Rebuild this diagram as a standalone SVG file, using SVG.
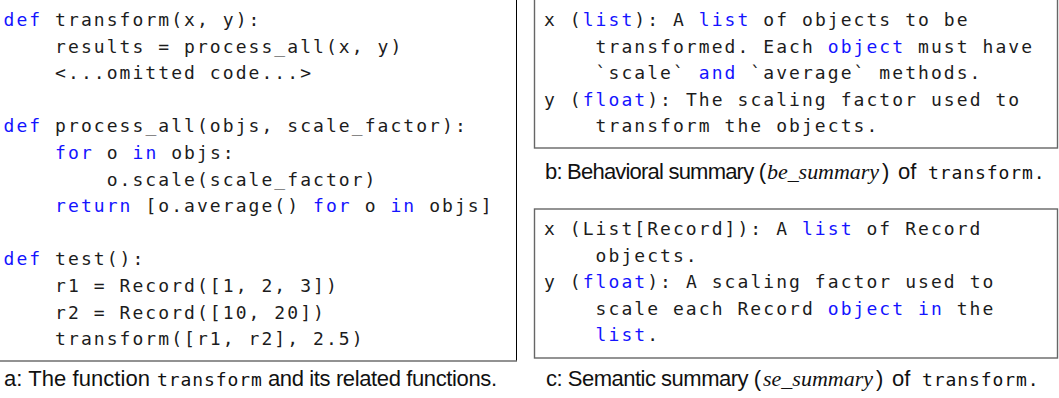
<svg xmlns="http://www.w3.org/2000/svg" width="1059" height="398" viewBox="0 0 1059 398">
<style>
.code{font-family:"DejaVu Sans Mono","Liberation Mono",monospace;font-size:18px;letter-spacing:2.06px;fill:#1c1c1c;white-space:pre}
.kw{fill:#1414ff}
.cap{font-family:"Liberation Sans","Noto Sans",sans-serif;font-size:22px;fill:#111;white-space:pre}
.capi{font-family:"Liberation Serif",serif;font-style:italic;font-size:22px;fill:#111}
.capm{font-family:"DejaVu Sans Mono","Liberation Mono",monospace;font-size:18px;letter-spacing:0.9px;fill:#111;white-space:pre}
.box{fill:none;stroke:#666;stroke-width:1.4}
</style>
<rect width="1059" height="398" fill="#fff"/>

<g id="panel-a">
  <line x1="516.5" y1="0" x2="516.5" y2="361" stroke="#000" stroke-width="1"/>
  <line x1="0" y1="361" x2="517" y2="361" stroke="#6e6e6e" stroke-width="1.6"/>
  <text class="code" xml:space="preserve" x="3.5" y="26"><tspan class="kw">def</tspan> transform(x, y):</text>
  <text class="code" xml:space="preserve" x="3.5" y="52.6">    results = process_all(x, y)</text>
  <text class="code" xml:space="preserve" x="3.5" y="79.2">    &lt;...omitted code...&gt;</text>
  <text class="code" xml:space="preserve" x="3.5" y="132.4"><tspan class="kw">def</tspan> process_all(objs, scale_factor):</text>
  <text class="code" xml:space="preserve" x="3.5" y="159">    <tspan class="kw">for</tspan> o <tspan class="kw">in</tspan> objs:</text>
  <text class="code" xml:space="preserve" x="3.5" y="185.6">        o.scale(scale_factor)</text>
  <text class="code" xml:space="preserve" x="3.5" y="212.2">    <tspan class="kw">return</tspan> [o.average() <tspan class="kw">for</tspan> o <tspan class="kw">in</tspan> objs]</text>
  <text class="code" xml:space="preserve" x="3.5" y="265.4"><tspan class="kw">def</tspan> test():</text>
  <text class="code" xml:space="preserve" x="3.5" y="292">    r1 = Record([1, 2, 3])</text>
  <text class="code" xml:space="preserve" x="3.5" y="318.6">    r2 = Record([10, 20])</text>
  <text class="code" xml:space="preserve" x="3.5" y="345.2">    transform([r1, r2], 2.5)</text>
</g>

<g id="caption-a">
  <text class="cap" x="4" y="386" textLength="146">a: The function</text>
  <text class="capm" x="157" y="386">transform</text>
  <text class="cap" x="268" y="386" textLength="229">and its related functions.</text>
</g>

<g id="panel-b">
  <rect class="box" x="534.5" y="-2" width="523" height="150"/>
  <text class="code" xml:space="preserve" x="544" y="26">x (<tspan class="kw">list</tspan>): A <tspan class="kw">list</tspan> of objects to be</text>
  <text class="code" xml:space="preserve" x="544" y="52.6">    transformed. Each <tspan class="kw">object</tspan> must have</text>
  <text class="code" xml:space="preserve" x="544" y="79.2">    `scale` <tspan class="kw">and</tspan> `average` methods.</text>
  <text class="code" xml:space="preserve" x="544" y="105.8">y (<tspan class="kw">float</tspan>): The scaling factor used to</text>
  <text class="code" xml:space="preserve" x="544" y="132.4">    transform the objects.</text>
</g>

<g id="caption-b">
  <text class="cap" x="545" y="179" textLength="221">b: Behavioral summary (</text>
  <text class="capi" x="767" y="179" textLength="112">be_summary</text>
  <text class="cap" x="882" y="179">)</text>
  <text class="cap" x="898" y="179">of</text>
  <text class="capm" x="928" y="179">transform.</text>
</g>

<g id="panel-c">
  <rect class="box" x="534.5" y="209" width="523" height="149"/>
  <text class="code" xml:space="preserve" x="544" y="235">x (List[Record]): A <tspan class="kw">list</tspan> of Record</text>
  <text class="code" xml:space="preserve" x="544" y="261.6">    objects.</text>
  <text class="code" xml:space="preserve" x="544" y="288.2">y (<tspan class="kw">float</tspan>): A scaling factor used to</text>
  <text class="code" xml:space="preserve" x="544" y="314.8">    scale each Record <tspan class="kw">object</tspan> <tspan class="kw">in</tspan> the</text>
  <text class="code" xml:space="preserve" x="544" y="341.4">    <tspan class="kw">list</tspan>.</text>
</g>

<g id="caption-c">
  <text class="cap" x="546" y="386" textLength="215">c: Semantic summary (</text>
  <text class="capi" x="763" y="386" textLength="110">se_summary</text>
  <text class="cap" x="876" y="386">)</text>
  <text class="cap" x="892" y="386">of</text>
  <text class="capm" x="922" y="386">transform.</text>
</g>

<g id="connectors"></g>
</svg>
